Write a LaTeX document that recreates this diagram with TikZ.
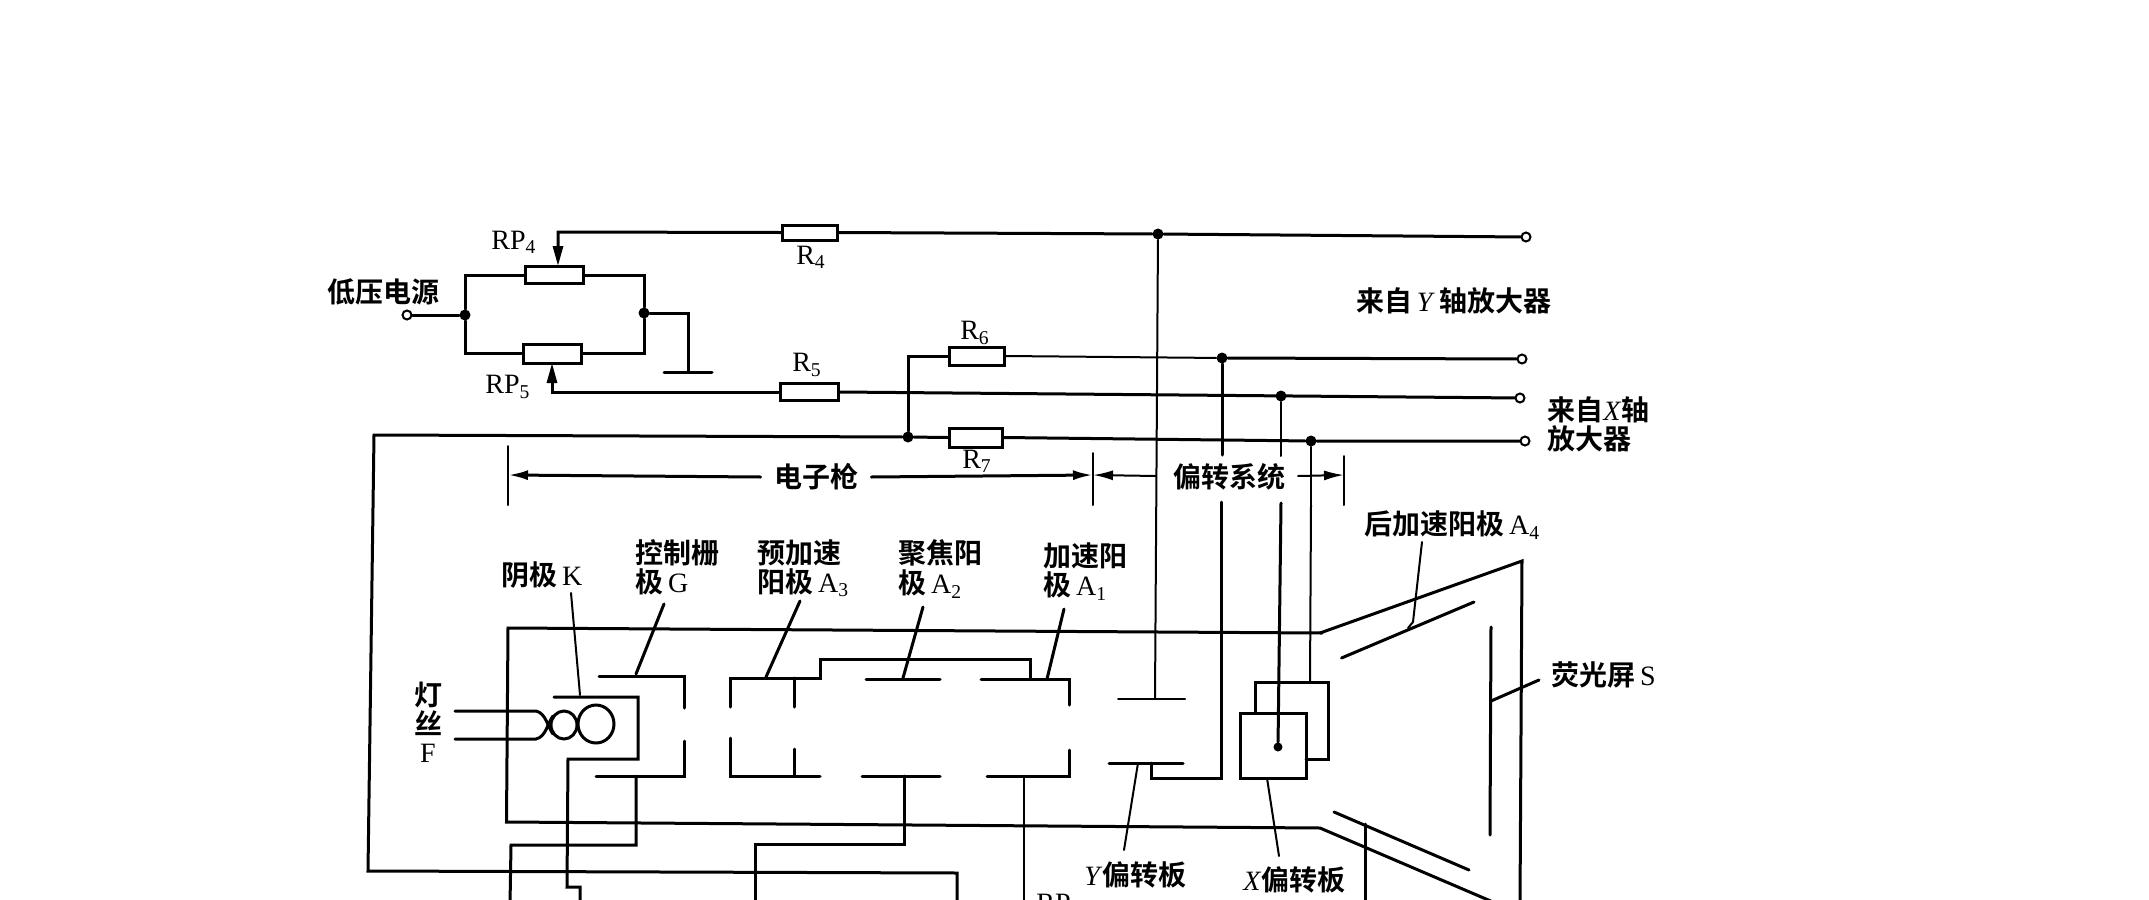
\documentclass[tikz,border=0pt]{standalone}
\usepackage{fontspec}
\setmainfont{Liberation Serif}
\newfontfamily\cjk{Noto Sans CJK SC}[BoldFont={Noto Sans CJK SC Bold}]
\usetikzlibrary{arrows.meta}
\tikzset{
  x=0.5pt,y=-0.5pt,
  wire/.style={line width=1.5pt,line cap=round,line join=miter},
  thinw/.style={line width=1pt,line cap=round},
  box/.style={draw,line width=1.5pt,fill=white,minimum width=0pt,inner sep=0pt},
  dotn/.style={circle,fill=black,inner sep=0pt,minimum size=5.5pt},
  term/.style={circle,draw,line width=1pt,fill=white,inner sep=0pt,minimum size=4.5pt},
  lab/.style={inner sep=0pt,font=\cjk\bfseries\fontsize{14}{14}\selectfont,text=black},
  en/.style={inner sep=0pt,font=\fontsize{14}{14}\selectfont},
  tipw/.style={-{Triangle[length=10pt,width=5pt]}},
  tipp/.style={-{Latex[length=10pt,width=5pt]}}
}
\newcommand{\subs}[1]{\textsubscript{#1}}
\begin{document}
\begin{tikzpicture}
\path[use as bounding box] (0,0) rectangle (2149,900);
\clip (0,0) rectangle (2149,900);
% terminals / junctions
\node[term] (tIn) at (407,315) {};
\node[dotn] (jL) at (465,315) {};
\node[dotn] (jR) at (644,313) {};
\node[dotn] (jY) at (1158,234) {};
\node[dotn] (jN) at (908,437) {};
\node[dotn] (jR6) at (1222,358) {};
\node[dotn] (jX) at (1281,396) {};
\node[dotn] (jR7) at (1311,441) {};
\node[dotn,minimum size=4.5pt] (dotX) at (1278,747) {};
\node[term] (tY) at (1526,237) {};
\node[term] (tR6) at (1522,359) {};
\node[term] (tX) at (1520,398) {};
\node[term] (tR7) at (1525,441) {};
% resistors
\node[box,minimum width=29pt,minimum height=8.5pt] (RPf) at (554,275) {};
\node[box,minimum width=29pt,minimum height=9.5pt] (RPv) at (552,353.5) {};
\node[box,minimum width=27.5pt,minimum height=7.5pt] (Rf) at (809.5,232.5) {};
\node[box,minimum width=29pt,minimum height=8.5pt] (Rs) at (809,392) {};
\node[box,minimum width=27.5pt,minimum height=9pt] (Rr) at (976.5,356) {};
\node[box,minimum width=26.5pt,minimum height=9.5pt] (Rq) at (975.5,437.5) {};
% coordinates
\coordinate (a1) at (558,232);
\coordinate (a2) at (552,392);
\coordinate (gTop) at (688,313);
\coordinate (gBot) at (688,372);
\coordinate (gL) at (664,372);
\coordinate (gR) at (712,372);
% power network
\draw[wire] (tIn) -- (jL);
\draw[wire] (jL) |- (RPf.west);
\draw[wire] (RPf.east) -| (jR);
\draw[wire] (jL) |- (RPv.west);
\draw[wire] (RPv.east) -| (jR);
\draw[wire] (jR) -- (gTop) -- (gBot);
\draw[wire] (gL) -- (gR);
\draw[wire,tipw] (Rf.west) -- (a1) -- (558,266);
\draw[wire,tipw] (Rs.west) -- (a2) -- (552,363);
\draw[wire] (Rf.east) -- (jY);
\draw[wire] (jY) -- (tY);
\draw[wire] (Rs.east) -- (tX);
\draw[wire] (jN) |- (Rr.west);
\draw[thinw] (Rr.east) -- (jR6);
\draw[wire] (jR6) -- (tR6);
\draw[wire] (jN) -- (Rq.west);
\draw[wire] (Rq.east) -- (jR7) -- (tR7);
\draw[wire] (jN) -- (374,435) -- (368,871) -- (957,873) -- (957,910);
% vertical feeds
\draw[thinw] (jY) -- (1155,699);
\draw[thinw] (1118,699) -- (1185,699);
\draw[wire] (jR6) -- (1222,455);
\draw[wire] (1221,502) -- (1221,778) -- (1151,778) -- (1151,763);
\draw[wire] (1109,763) -- (1183,763);
\draw[thinw] (jX) -- (1281,456);
\draw[wire] (1281,503) -- (dotX);
\draw[thinw] (jR7) -- (1311,505);
\draw[thinw] (1311,505) -- (1310,683);
% dimension line
\coordinate (dL) at (508,475);
\coordinate (dM) at (1093,475);
\coordinate (dR) at (1344,475);
\draw[thinw] (508,446) -- (508,505);
\draw[thinw] (1093,453) -- (1093,505);
\draw[thinw] (1344,456) -- (1344,505);
\node[lab] (gun) at (816,477) {电子枪};
\node[lab] (defl) at (1229,477) {偏转系统};
\draw[wire,tipp] (gun.west) ++(-13,0) -- (dL);
\draw[wire,tipp] (gun.east) ++(13,0) -- (dM);
\draw[thinw,tipp] (1156,476) -- (dM);
\draw[thinw,tipp] (1298,476) -- (dR);
% tube
\draw[wire] (1322,633) -- (508,628) -- (506.5,822) -- (1320,828) -- (1500,905);
\draw[wire] (1320,633) -- (1522,561) -- (1520,905);
\draw[wire] (1341.5,658) -- (1474,602);
\draw[wire] (1334,812) -- (1469,870);
\draw[wire] (1365,824) -- (1365,905);
\draw[wire] (1491,627) -- (1490,835);
\draw[wire] (1491,701) -- (1539,680);
\draw[thinw] (1422,542) -- (1413,622) -- (1408,628);
% electrodes
\draw[wire] (730,707) -- (730,678) -- (820,678) -- (820,659) -- (1030,659) -- (1030,679);
\draw[wire] (730,738) -- (730,776) -- (820,776);
\draw[wire] (794.5,678) -- (794.5,707);
\draw[wire] (794.5,749) -- (794.5,776);
\draw[wire] (866,679) -- (940,679);
\draw[wire] (862,776) -- (940,776);
\draw[wire] (981,679) -- (1069,679) -- (1069,705);
\draw[wire] (1069,750) -- (1069,776) -- (987,776);
\draw[thinw] (1024,777) -- (1024,905);
\draw[wire] (904,776) -- (904,844) -- (755,844) -- (755,905);
\draw[wire] (599,676) -- (684,676) -- (684,708);
\draw[wire] (596,776) -- (684,776) -- (684,741);
\draw[wire] (636,776) -- (636,845) -- (511,845) -- (510,905);
\draw[wire] (554,697) -- (638,697) -- (638,759) -- (568,759) -- (567,887) -- (580,887) -- (580,905);
% filament
\draw[wire] (455,711) -- (536,711) .. controls (546,713) and (548,728) .. (553,734);
\draw[wire] (455,739) -- (536,739) .. controls (546,737) and (548,722) .. (553,716);
\draw[wire] (564,725) ellipse[x radius=13,y radius=14];
\draw[wire] (596,724) ellipse[x radius=18,y radius=19];
% X plates
\draw[wire] (1255,713) -- (1255,682) -- (1328,682) -- (1328,759) -- (1306,759);
\draw[wire] (1240,713) rectangle (1306,778);
% pointers
\draw[thinw] (571,593) -- (580,695);
\draw[wire] (664,604) -- (636,674);
\draw[wire] (800,601) -- (766,677);
\draw[wire] (923,607) -- (903,678);
\draw[wire] (1064,609) -- (1047,679);
\draw[thinw] (1138,763) -- (1124,850);
\draw[thinw] (1267,778) -- (1279,856);
% labels
\node[lab] (tLow) at (383,292) {低压电源};
\node[en] (tRPf) at (514,242) {RP\subs{4}};
\node[en] (tRPv) at (508,387) {RP\subs{5}};
\node[en] (tRf) at (811,257) {R\subs{4}};
\node[en] (tRs) at (807,365) {R\subs{5}};
\node[en] (tRr) at (975,333) {R\subs{6}};
\node[en] (tRq) at (977,461) {R\subs{7}};
\node[lab] (tFY) at (1454,301) {来自\,\textit{\rmfamily\mdseries Y}\,轴放大器};
\node[lab,anchor=west] (tFXa) at (1547,410) {来自\textit{\rmfamily\mdseries X}轴};
\node[lab,anchor=west] (tFXb) at (1547,439) {放大器};
\node[lab,anchor=west] (tA4) at (1364,525) {后加速阳极\,{\rmfamily\mdseries A\subs{4}}};
\node[lab,anchor=west] (tSc) at (1551,675) {荧光屏\,{\rmfamily\mdseries S}};
\node[lab,anchor=west] (tK) at (501,575) {阴极\,{\rmfamily\mdseries K}};
\node[lab,anchor=west] (tGa) at (635,553) {控制栅};
\node[lab,anchor=west] (tGb) at (635,582) {极\,{\rmfamily\mdseries G}};
\node[lab,anchor=west] (tAa) at (757,553) {预加速};
\node[lab,anchor=west] (tAb) at (757,583) {阳极\,{\rmfamily\mdseries A\subs{3}}};
\node[lab,anchor=west] (tBa) at (898,553) {聚焦阳};
\node[lab,anchor=west] (tBb) at (898,584) {极\,{\rmfamily\mdseries A\subs{2}}};
\node[lab,anchor=west] (tCa) at (1043,556) {加速阳};
\node[lab,anchor=west] (tCb) at (1043,586) {极\,{\rmfamily\mdseries A\subs{1}}};
\node[lab] (tFa) at (428,695) {灯};
\node[lab] (tFb) at (428,723) {丝};
\node[en] (tFc) at (428,753) {F};
\node[lab,anchor=west] (tYp) at (1084,875) {\textit{\rmfamily\mdseries Y}偏转板};
\node[lab,anchor=west] (tXp) at (1243,880) {\textit{\rmfamily\mdseries X}偏转板};
\node[en,anchor=north west] (tRPb) at (1036,894) {RP};
\end{tikzpicture}
\end{document}
